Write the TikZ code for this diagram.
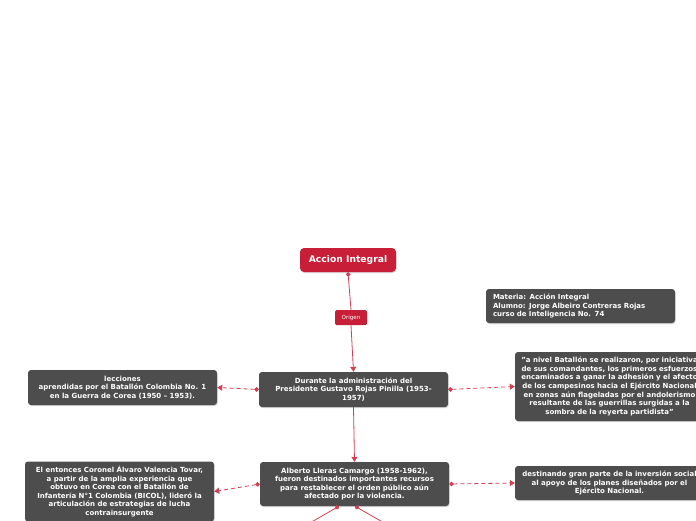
\documentclass[tikz,border=0pt]{standalone}
\usepackage{fontspec}
\setmainfont{DejaVu Sans}
\usetikzlibrary{arrows.meta,shadows,calc}
\definecolor{nodegray}{RGB}{77,77,77}
\definecolor{mainred}{RGB}{200,30,55}
\definecolor{linered}{RGB}{212,62,82}
\begin{document}
\begin{tikzpicture}[x=1pt,y=-1pt,
  box/.style={fill=nodegray, rounded corners=3pt, text=white,
    font=\fontsize{7}{8.6}\selectfont\bfseries, align=center,
    inner xsep=3pt, inner ysep=0pt, minimum width=189pt,
    drop shadow={shadow xshift=0.6pt, shadow yshift=-1pt, opacity=0.35}},
  topbox/.style={fill=mainred, rounded corners=4pt, text=white,
    font=\fontsize{9.2}{11}\selectfont\bfseries, minimum width=96pt, minimum height=24pt,
    inner sep=0pt,
    drop shadow={shadow xshift=0.6pt, shadow yshift=-1pt, opacity=0.3}},
  lbl/.style={fill=mainred, rounded corners=1.5pt, text=white,
    font=\fontsize{5.6}{6}\selectfont, minimum width=32pt, minimum height=15pt, inner sep=0pt},
  conn/.style={draw=linered, line width=0.8pt},
  dashconn/.style={conn, dash pattern=on 4pt off 3pt},
  tip/.style={-{Triangle[length=5pt,width=6pt]}},
  dottip/.style={{Circle[length=4.5pt]}-{Triangle[length=5pt,width=6pt]}},
  dotstart/.style={{Circle[length=4.5pt]}-}
]
\clip (0,0) rectangle (696,520);

\node[topbox] (acc) at (348,260) {Accion Integral};
\node[lbl] (orig) at (351,317.5) {Origen};

\node[box, minimum height=34pt, text width=175pt, align=left, inner xsep=7pt, minimum width=0pt]
  (mat) at (580.5,306) {Materia: Acción Integral\\Alumno: Jorge Albeiro Contreras Rojas\\curso de Inteligencia No. 74};

\node[box, minimum height=35pt] (dur) at (353.5,389.5)
  {Durante la administración del\\Presidente Gustavo Rojas Pinilla (1953-\\1957)};

\node[box, minimum height=35pt] (lec) at (122.5,387.5)
  {lecciones\\aprendidas por el Batallón Colombia No. 1\\en la Guerra de Corea (1950 – 1953).};

\node[box, minimum height=69pt] (quo) at (609.5,386.5)
  {"a nivel Batallón se realizaron, por iniciativa\\de sus comandantes, los primeros esfuerzos\\encaminados a ganar la adhesión y el afecto\\de los campesinos hacia el Ejército Nacional\\en zonas aún flageladas por el andolerismo\\resultante de las guerrillas surgidas a la\\sombra de la reyerta partidista"};

\node[box, minimum height=44pt] (alb) at (354.5,484)
  {Alberto Lleras Camargo (1958-1962),\\fueron destinados importantes recursos\\para restablecer el orden público aún\\afectado por la violencia.};

\node[box, minimum height=60pt] (cor) at (119.5,491.5)
  {El entonces Coronel Álvaro Valencia Tovar,\\a partir de la amplia experiencia que\\obtuvo en Corea con el Batallón de\\Infantería N°1 Colombia (BICOL), lideró la\\articulación de estrategias de lucha\\contrainsurgente};

\node[box, minimum height=34pt] (des) at (609.5,483)
  {destinando gran parte de la inversión social\\al apoyo de los planes diseñados por el\\Ejército Nacional.};

% connectors
\draw[conn, dotstart] (acc.south) -- (orig.north);
\draw[conn, tip] (orig.south) -- (dur.north);
\draw[dashconn, dottip] (dur.west) -- (lec.east);
\draw[dashconn, dottip] (dur.east) -- (quo.west);
\draw[conn, tip] (dur.south) -- (alb.north);
\draw[dashconn, dottip] (alb.west) -- (cor.east);
\draw[dashconn, dottip] (alb.east) -- (des.west);

\coordinate (a1) at ($(alb.south)+(-15.5,0)$);
\coordinate (a2) at ($(alb.south)+(0.5,0)$);
\coordinate (e1) at ($(a1)+(-47,27)$);
\coordinate (e2) at ($(a2)+(47,27)$);
\draw[conn, dotstart] (a1) -- (e1);
\draw[conn, dotstart] (a2) -- (e2);
\end{tikzpicture}
\end{document}
